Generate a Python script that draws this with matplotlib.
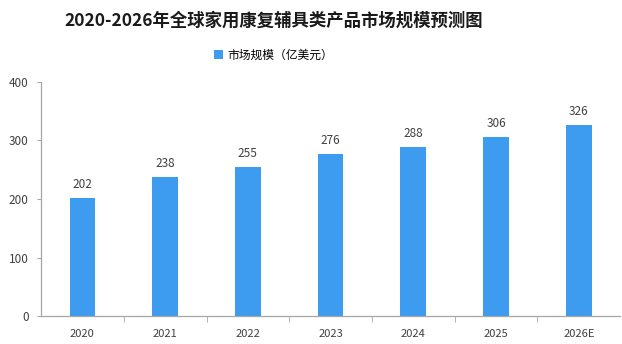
import matplotlib
matplotlib.use("Agg")
import matplotlib.pyplot as plt
import numpy as np

plt.rcParams['font.family'] = ['Noto Sans CJK SC', 'DejaVu Sans']

years = ['2020', '2021', '2022', '2023', '2024', '2025', '2026E']
market_size = [202, 238, 255, 276, 288, 306, 326]
series_name = '市场规模（亿美元）'
title = '2020-2026年全球家用康复辅具类产品市场规模预测图'

bar_color = '#3d9bf0'
axis_color = '#a6a6a6'
text_color = '#404040'

fig = plt.figure(figsize=(6.22, 3.44), dpi=100)
ax = fig.add_axes([0.066, 0.081, 0.931, 0.681])

x = np.arange(len(years))
bars = ax.bar(x, market_size, width=0.31, color=bar_color, label=series_name, zorder=2)

# value labels above each bar
for rect, v in zip(bars, market_size):
    ax.text(rect.get_x() + rect.get_width() / 2, v + 12, str(v),
            ha='center', va='bottom', fontsize=8.5, color=text_color)

ax.set_xlim(-0.5, len(years) - 0.5)
ax.set_ylim(0, 400)
ax.set_yticks([0, 100, 200, 300, 400])
ax.set_xticks(x)
ax.set_xticklabels(years)
ax.set_xticks(np.arange(0.5, len(years) - 0.5, 1), minor=True)

for side in ('top', 'right'):
    ax.spines[side].set_visible(False)
for side in ('left', 'bottom'):
    ax.spines[side].set_color(axis_color)
    ax.spines[side].set_linewidth(0.9)

ax.tick_params(axis='y', colors=axis_color, labelcolor=text_color, labelsize=8.5,
               length=3, pad=6)
ax.tick_params(axis='x', which='major', length=0, labelcolor=text_color,
               labelsize=8, pad=9)
ax.tick_params(axis='x', which='minor', length=4, color=axis_color)

fig.text(0.44, 0.94, title, ha='center', va='center', fontsize=12.5,
         fontweight='bold', color='#1a1a1a')
fig.legend(handles=[bars], labels=[series_name], loc='center',
           bbox_to_anchor=(0.44, 0.84), frameon=False, fontsize=8.5,
           handlelength=0.7, handleheight=0.7, handletextpad=0.4)

fig.savefig('out.png', dpi=100)
